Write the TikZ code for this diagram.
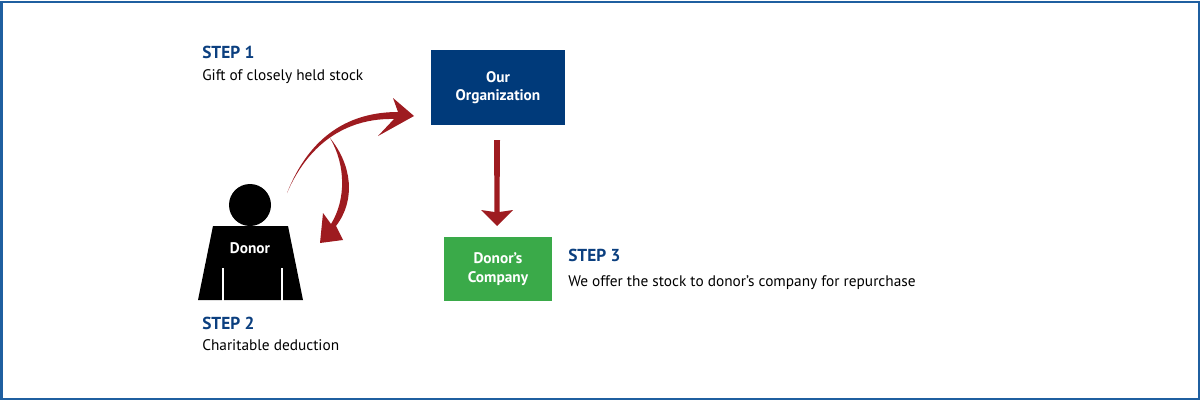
\documentclass[tikz,border=0pt]{standalone}
\usepackage{fontspec}
\setmainfont{PT Sans}
\begin{document}
\begin{tikzpicture}[x=0.75pt,y=-0.75pt,
  stp/.style={anchor=west,font=\fontsize{13}{15}\selectfont\bfseries,text=stepblue,inner sep=0},
  txt/.style={anchor=west,font=\fontsize{11.5}{14}\selectfont,inner sep=0},
  box/.style={text=white,font=\fontsize{11.5}{14}\selectfont\bfseries,align=center,inner sep=0}]
\definecolor{stepblue}{HTML}{0B3F7F}
\definecolor{frameblue}{HTML}{1F5FA0}
\definecolor{orgblue}{HTML}{003A7A}
\definecolor{cgreen}{HTML}{3AAA49}
\definecolor{ared}{HTML}{9E1B20}
\useasboundingbox (0,0) rectangle (1200,400);
\draw[frameblue,line width=1.5pt] (1.5,1.5) rectangle (1198.5,398.5);
% boxes
\fill[orgblue] (431,50) rectangle (565,125);
\node[box] (org) at (498,87.5) {Our\\Organization};
\fill[cgreen] (444,237) rectangle (552,301);
\node[box] (comp) at (498,269) {Donor’s\\Company};
% donor
\fill[black] (250,205) circle (21);
\fill[black] (213,226) -- (288,226) -- (303,300) -- (198,300) -- cycle;
\draw[white,line width=1.2pt] (223,268) -- (223,301) (282,268) -- (282,301);
\node[box] (donor) at (250,248) {Donor};
% arrow 1
\fill[ared] (287,193) .. controls (310,135) and (350,112) .. (398,112)
  -- (393,98) -- (414,116) -- (378,136) -- (394,119)
  .. controls (350,118) and (310,140) .. (287,193) -- cycle;
% arrow 2
\fill[ared] (330,138) .. controls (352,165) and (356,200) .. (336,226)
  -- (343,240) -- (320,243) -- (323,213) -- (331,224)
  .. controls (346,200) and (346,165) .. (330,138) -- cycle;
% arrow 3
\fill[ared] (494,140) -- (500,140) -- (499.5,212) -- (513,210) -- (497,226) -- (481,210) -- (494.5,212) -- cycle;
% texts
\node[stp] (s1) at (202,52) {STEP 1};
\node[txt] (t1) at (202,77) {Gift of closely held stock};
\node[stp] (s2) at (202,323) {STEP 2};
\node[txt] (t2) at (202,345) {Charitable deduction};
\node[stp] (s3) at (568,255) {STEP 3};
\node[txt] (t3) at (568,283) {We offer the stock to donor’s company for repurchase};
\end{tikzpicture}
\end{document}
